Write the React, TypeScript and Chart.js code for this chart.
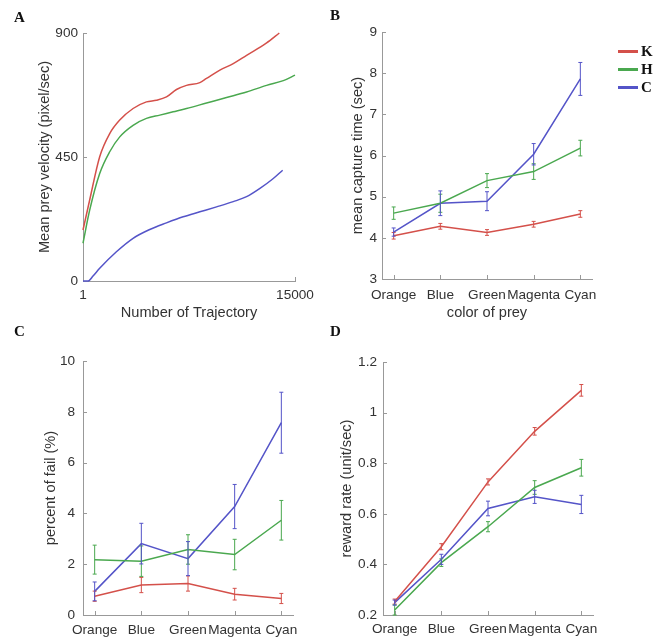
import React, { useEffect, useRef } from 'react';
import { Chart, registerables } from 'chart.js';

Chart.register(...registerables);

const SANS = "'Liberation Sans', Arial, Helvetica, sans-serif";
const SERIF = "'Liberation Serif', 'Times New Roman', serif";
const TEXT = '#333333';
const AXIS = '#999999';
const TICK_SIZE = 13.6;
const TITLE_SIZE = 14.6;

// Subjects and their line colours
const SUBJECTS = ['K', 'H', 'C'];
const SUBJECT_COLORS = ['#d4504a', '#4aa84f', '#5454c8'];

// Prey colours on the category axes
const PREY_COLORS = ['Orange', 'Blue', 'Green', 'Magenta', 'Cyan'];

// A: mean prey velocity [trajectory number, pixel/sec]
const VELOCITY_K = [
  [1, 185], [473, 294], [1182, 451], [1891, 535], [2600, 584], [3544, 626],
  [4489, 650], [5197, 656], [5906, 668], [6615, 695], [7323, 710], [8268, 720],
  [8740, 735], [9685, 765], [10630, 789], [11575, 819], [12992, 864], [13889, 900],
];
const VELOCITY_H = [
  [1, 137], [473, 257], [1182, 390], [1891, 469], [2600, 523], [3544, 565],
  [4489, 590], [5434, 602], [6378, 614], [7323, 626], [8740, 646], [10157, 666],
  [11575, 686], [12992, 710], [14173, 727], [15000, 747],
];
const VELOCITY_C = [
  [1, 0], [355, 0], [709, 18], [1182, 46], [2363, 106], [3544, 155],
  [4725, 187], [5906, 211], [7087, 233], [8268, 251], [9449, 269], [10630, 288],
  [11575, 306], [12520, 336], [13465, 372], [14126, 402],
];
const VELOCITY_TICKS = [1, 15000];
const VELOCITY_Y_TICKS = [0, 450, 900];

// B: mean capture time (sec) and its error
const CAPTURE_K = [4.05, 4.28, 4.13, 4.33, 4.58];
const CAPTURE_K_ERR = [0.08, 0.07, 0.07, 0.07, 0.08];
const CAPTURE_H = [4.6, 4.84, 5.39, 5.61, 6.18];
const CAPTURE_H_ERR = [0.15, 0.22, 0.17, 0.19, 0.19];
const CAPTURE_C = [4.14, 4.84, 4.89, 6.03, 7.86];
const CAPTURE_C_ERR = [0.1, 0.3, 0.23, 0.26, 0.4];
const CAPTURE_TICKS = [3, 4, 5, 6, 7, 8, 9];

// C: percent of fail (%) and its error
const FAIL_K = [0.74, 1.18, 1.24, 0.82, 0.65];
const FAIL_K_ERR = [0.2, 0.3, 0.3, 0.23, 0.2];
const FAIL_H = [2.18, 2.12, 2.58, 2.38, 3.73];
const FAIL_H_ERR = [0.57, 0.6, 0.58, 0.6, 0.78];
const FAIL_C = [0.93, 2.81, 2.22, 4.27, 7.57];
const FAIL_C_ERR = [0.37, 0.8, 0.67, 0.87, 1.2];
const FAIL_TICKS = [0, 2, 4, 6, 8, 10];

// D: reward rate (unit/sec) and its error
const REWARD_K = [0.253, 0.47, 0.726, 0.926, 1.088];
const REWARD_K_ERR = [0.01, 0.012, 0.012, 0.015, 0.023];
const REWARD_H = [0.22, 0.407, 0.549, 0.704, 0.782];
const REWARD_H_ERR = [0.02, 0.015, 0.02, 0.027, 0.033];
const REWARD_C = [0.249, 0.42, 0.621, 0.667, 0.637];
const REWARD_C_ERR = [0.01, 0.02, 0.029, 0.026, 0.036];
const REWARD_TICKS = [0.2, 0.4, 0.6, 0.8, 1, 1.2];

// Vertical error bars with small caps, drawn through the chart's scales
const errorBars = {
  id: 'errorBars',
  afterDatasetsDraw(chart: any) {
    const { ctx } = chart;
    const xs = chart.scales.x;
    const ys = chart.scales.y;
    chart.data.datasets.forEach((ds: any) => {
      if (!ds.errors) return;
      ctx.save();
      ctx.strokeStyle = ds.borderColor;
      ctx.lineWidth = 1;
      ctx.beginPath();
      ds.data.forEach((pt: any, i: number) => {
        const x = xs.getPixelForValue(pt.x);
        const lo = ys.getPixelForValue(pt.y - ds.errors[i]);
        const hi = ys.getPixelForValue(pt.y + ds.errors[i]);
        ctx.moveTo(x, lo);
        ctx.lineTo(x, hi);
        ctx.moveTo(x - 2, lo);
        ctx.lineTo(x + 2, lo);
        ctx.moveTo(x - 2, hi);
        ctx.lineTo(x + 2, hi);
      });
      ctx.stroke();
      ctx.restore();
    });
  },
};

// Short tick marks pointing into the plot area
const inwardTicks = {
  id: 'inwardTicks',
  beforeDatasetsDraw(chart: any) {
    const { ctx, chartArea } = chart;
    const xs = chart.scales.x;
    const ys = chart.scales.y;
    ctx.save();
    ctx.strokeStyle = AXIS;
    ctx.lineWidth = 1;
    ctx.beginPath();
    xs.ticks.forEach((t: any) => {
      const x = Math.round(xs.getPixelForValue(t.value)) + 0.5;
      ctx.moveTo(x, chartArea.bottom);
      ctx.lineTo(x, chartArea.bottom - 4);
    });
    ys.ticks.forEach((t: any) => {
      const y = Math.round(ys.getPixelForValue(t.value)) + 0.5;
      ctx.moveTo(chartArea.left, y);
      ctx.lineTo(chartArea.left + 4, y);
    });
    ctx.stroke();
    ctx.restore();
  },
};

type Frame = {
  width: number;
  height: number;
  plotLeft: number;
  plotTop: number;
  plotRight: number;
  plotBottom: number;
  yTitleX: number;
  yTickPad: number;
  xTickPad: number;
  xTitleY?: number;
};

function scaleOptions(frame: Frame, yTitle: string, xTitle: string | null) {
  const titleLine = TITLE_SIZE * 1.2;
  return {
    y: {
      type: 'linear',
      grid: { display: false, drawTicks: false },
      border: { display: true, color: AXIS, width: 1 },
      ticks: { color: TEXT, font: { size: TICK_SIZE, family: SANS }, padding: frame.yTickPad },
      title: {
        display: true,
        text: yTitle,
        color: TEXT,
        font: { size: TITLE_SIZE, family: SANS },
        padding: { top: frame.yTitleX - titleLine / 2, bottom: 0 },
      },
      afterFit: (s: any) => {
        s.width = frame.plotLeft;
      },
    },
    x: {
      type: 'linear',
      grid: { display: false, drawTicks: false },
      border: { display: true, color: AXIS, width: 1 },
      ticks: {
        color: TEXT,
        font: { size: TICK_SIZE, family: SANS },
        padding: frame.xTickPad,
        maxRotation: 0,
        minRotation: 0,
        autoSkip: false,
      },
      title: xTitle
        ? {
            display: true,
            text: xTitle,
            color: TEXT,
            font: { size: TITLE_SIZE, family: SANS },
            padding: { top: 0, bottom: frame.height - (frame.xTitleY ?? 0) - titleLine / 2 },
          }
        : { display: false },
      afterFit: (s: any) => {
        s.height = frame.height - frame.plotBottom;
      },
    },
  };
}

function baseOptions(frame: Frame) {
  return {
    responsive: false,
    animation: false,
    devicePixelRatio: 1,
    layout: {
      padding: {
        left: 0,
        bottom: 0,
        top: frame.plotTop,
        right: frame.width - frame.plotRight,
      },
    },
    plugins: { legend: { display: false }, tooltip: { enabled: false } },
    elements: { point: { radius: 0 } },
  };
}

function velocityConfig(frame: Frame) {
  const series = [VELOCITY_K, VELOCITY_H, VELOCITY_C];
  const scales: any = scaleOptions(frame, 'Mean prey velocity (pixel/sec)', 'Number of Trajectory');
  scales.x.min = VELOCITY_TICKS[0];
  scales.x.max = VELOCITY_TICKS[VELOCITY_TICKS.length - 1];
  scales.x.afterBuildTicks = (s: any) => {
    s.ticks = VELOCITY_TICKS.map((v) => ({ value: v }));
  };
  scales.x.ticks.callback = (_v: any, i: number) => String(VELOCITY_TICKS[i]);
  scales.y.min = VELOCITY_Y_TICKS[0];
  scales.y.max = VELOCITY_Y_TICKS[VELOCITY_Y_TICKS.length - 1];
  scales.y.afterBuildTicks = (s: any) => {
    s.ticks = VELOCITY_Y_TICKS.map((v) => ({ value: v }));
  };
  scales.y.ticks.callback = (_v: any, i: number) => String(VELOCITY_Y_TICKS[i]);
  return {
    type: 'line',
    data: {
      datasets: series.map((pts, k) => ({
        label: SUBJECTS[k],
        data: pts.map(([x, y]) => ({ x, y })),
        borderColor: SUBJECT_COLORS[k],
        borderWidth: 1.5,
        cubicInterpolationMode: 'monotone',
        clip: false,
      })),
    },
    options: { ...baseOptions(frame), scales },
    plugins: [inwardTicks],
  };
}

function preyConfig(
  frame: Frame,
  values: number[][],
  errors: number[][],
  yTicks: number[],
  yLabel: (v: number) => string,
  yTitle: string,
  xTitle: string | null,
) {
  const scales: any = scaleOptions(frame, yTitle, xTitle);
  scales.x.min = 0.75;
  scales.x.max = PREY_COLORS.length + 0.25;
  scales.x.afterBuildTicks = (s: any) => {
    s.ticks = PREY_COLORS.map((_c, i) => ({ value: i + 1 }));
  };
  scales.x.ticks.callback = (_v: any, i: number) => PREY_COLORS[i];
  scales.y.min = yTicks[0];
  scales.y.max = yTicks[yTicks.length - 1];
  scales.y.afterBuildTicks = (s: any) => {
    s.ticks = yTicks.map((v) => ({ value: v }));
  };
  scales.y.ticks.callback = (_v: any, i: number) => yLabel(yTicks[i]);
  return {
    type: 'line',
    data: {
      datasets: values.map((vals, k) => ({
        label: SUBJECTS[k],
        data: vals.map((y, i) => ({ x: i + 1, y })),
        errors: errors[k],
        borderColor: SUBJECT_COLORS[k],
        borderWidth: 1.5,
        tension: 0,
        clip: false,
      })),
    },
    options: { ...baseOptions(frame), scales },
    plugins: [inwardTicks, errorBars],
  };
}

function Panel({ left, top, frame, build }: { left: number; top: number; frame: Frame; build: () => any }) {
  const ref = useRef<HTMLCanvasElement>(null);
  useEffect(() => {
    const chart = new Chart(ref.current as HTMLCanvasElement, build());
    return () => chart.destroy();
  }, []);
  return (
    <canvas
      ref={ref}
      width={frame.width}
      height={frame.height}
      style={{ position: 'absolute', left, top, width: frame.width, height: frame.height }}
    />
  );
}

const FRAME_A: Frame = {
  width: 330, height: 330, plotLeft: 83, plotTop: 33, plotRight: 295, plotBottom: 281,
  yTitleX: 45, yTickPad: 5, xTickPad: 6, xTitleY: 313,
};
const FRAME_B: Frame = {
  width: 327, height: 330, plotLeft: 52, plotTop: 32, plotRight: 262, plotBottom: 279,
  yTitleX: 28, yTickPad: 5, xTickPad: 8, xTitleY: 313,
};
const FRAME_C: Frame = {
  width: 330, height: 311, plotLeft: 83, plotTop: 31, plotRight: 293, plotBottom: 285,
  yTitleX: 51, yTickPad: 8, xTickPad: 7,
};
const FRAME_D: Frame = {
  width: 327, height: 311, plotLeft: 53, plotTop: 32, plotRight: 263, plotBottom: 285,
  yTitleX: 17, yTickPad: 6, xTickPad: 6,
};

const letterStyle = (left: number, top: number): React.CSSProperties => ({
  position: 'absolute',
  left,
  top,
  font: `bold 15px ${SERIF}`,
  lineHeight: '15px',
  color: '#111',
});

export default function App() {
  return (
    <div
      style={{
        position: 'absolute',
        left: 0,
        top: 0,
        width: 657,
        height: 641,
        background: '#ffffff',
        overflow: 'hidden',
      }}
    >
      <Panel left={0} top={0} frame={FRAME_A} build={() => velocityConfig(FRAME_A)} />
      <Panel
        left={330}
        top={0}
        frame={FRAME_B}
        build={() =>
          preyConfig(
            FRAME_B,
            [CAPTURE_K, CAPTURE_H, CAPTURE_C],
            [CAPTURE_K_ERR, CAPTURE_H_ERR, CAPTURE_C_ERR],
            CAPTURE_TICKS,
            (v) => String(v),
            'mean capture time (sec)',
            'color of prey',
          )
        }
      />
      <Panel
        left={0}
        top={330}
        frame={FRAME_C}
        build={() =>
          preyConfig(
            FRAME_C,
            [FAIL_K, FAIL_H, FAIL_C],
            [FAIL_K_ERR, FAIL_H_ERR, FAIL_C_ERR],
            FAIL_TICKS,
            (v) => String(v),
            'percent of fail (%)',
            null,
          )
        }
      />
      <Panel
        left={330}
        top={330}
        frame={FRAME_D}
        build={() =>
          preyConfig(
            FRAME_D,
            [REWARD_K, REWARD_H, REWARD_C],
            [REWARD_K_ERR, REWARD_H_ERR, REWARD_C_ERR],
            REWARD_TICKS,
            (v) => String(Math.round(v * 10) / 10),
            'reward rate (unit/sec)',
            null,
          )
        }
      />

      <div style={letterStyle(14, 10)}>A</div>
      <div style={letterStyle(330, 8)}>B</div>
      <div style={letterStyle(14, 323.5)}>C</div>
      <div style={letterStyle(330, 323.5)}>D</div>

      {SUBJECTS.map((name, k) => (
        <div key={name}>
          <div
            style={{
              position: 'absolute',
              left: 618,
              top: 50 + k * 18,
              width: 20,
              height: 2.5,
              background: SUBJECT_COLORS[k],
            }}
          />
          <div style={{ ...letterStyle(641, 43.5 + k * 18), color: '#111' }}>{name}</div>
        </div>
      ))}
    </div>
  );
}
